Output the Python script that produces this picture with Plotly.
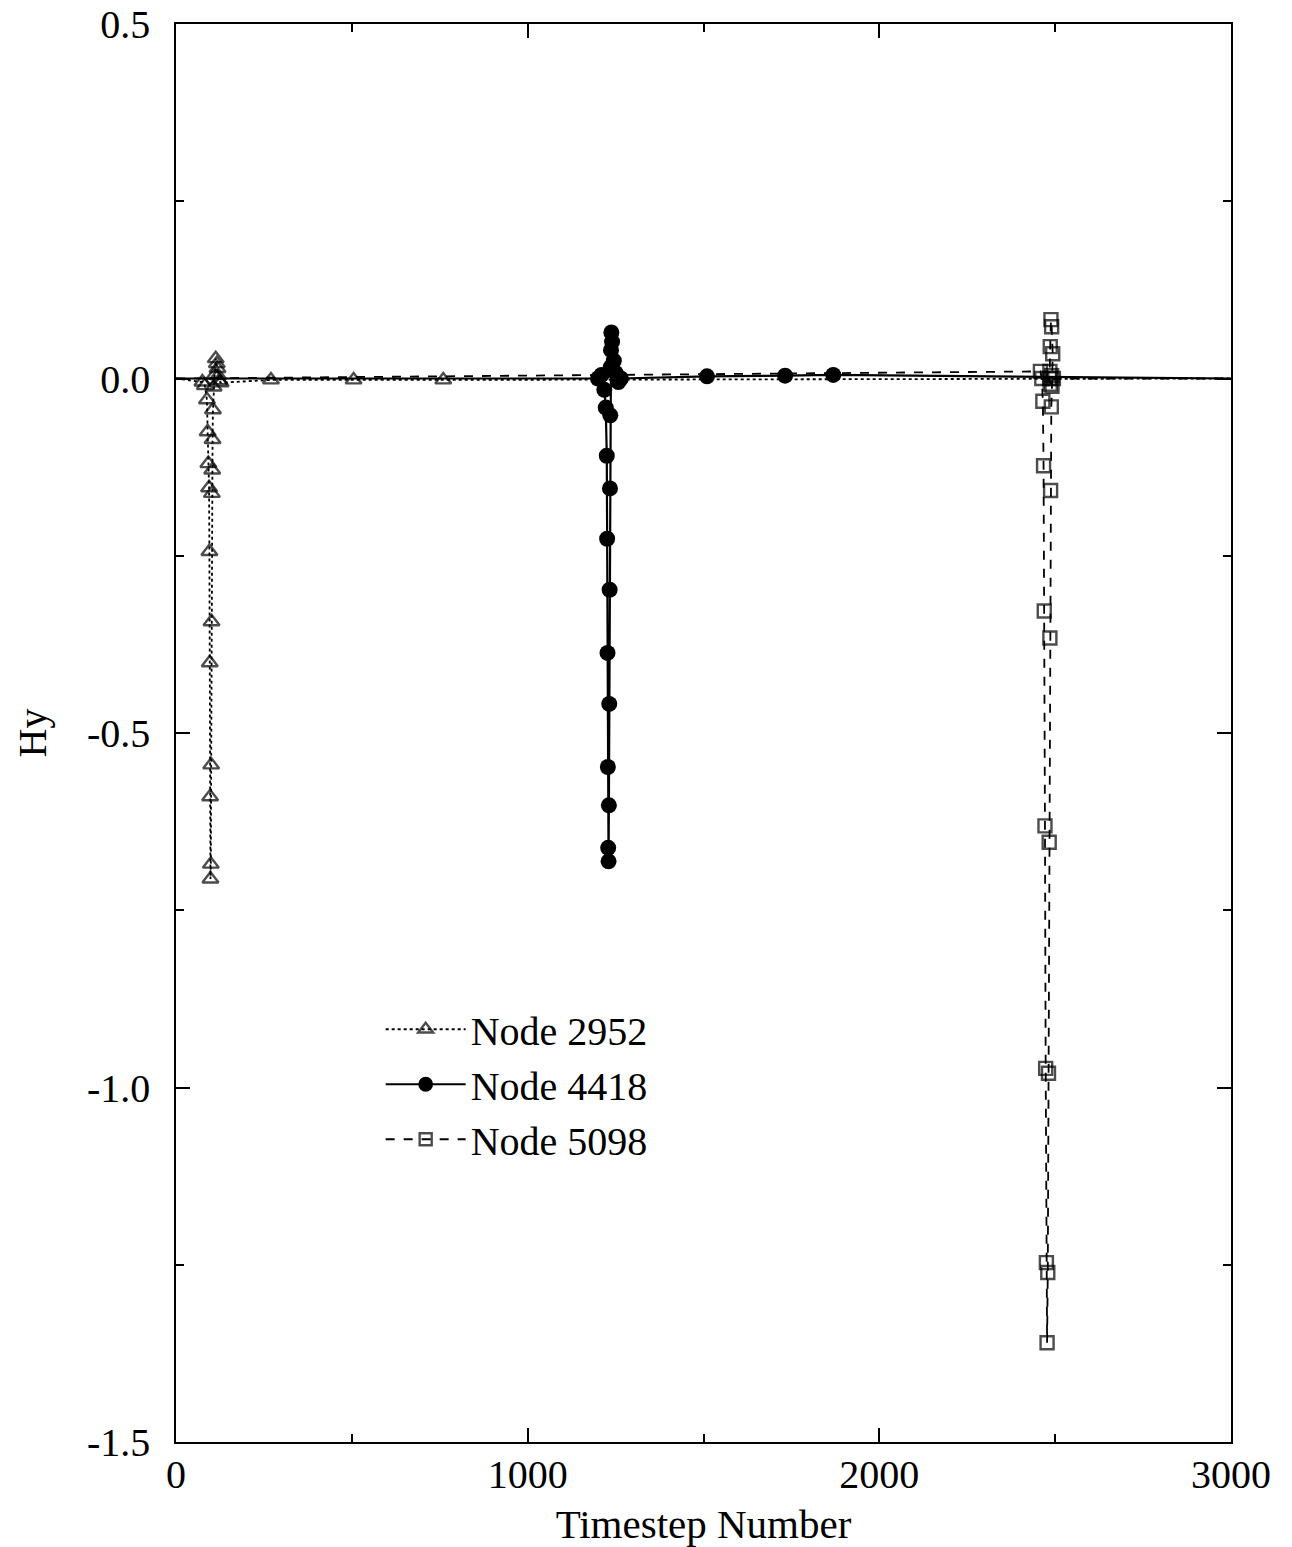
import plotly.graph_objects as go

# ---- data ----
node2952_x = [0, 75, 82, 88, 90, 92, 94, 95, 96, 97, 98, 99, 100, 101, 102, 103, 104, 105, 107, 110, 113, 116, 118, 120, 123, 127, 270, 505, 760, 3000]
node2952_y = [0, -0.005, -0.010, -0.030, -0.075, -0.120, -0.154, -0.244, -0.401, -0.590, -0.706, -0.685, -0.545, -0.343, -0.162, -0.129, -0.086, -0.044, -0.012, 0.005, 0.028, 0.021, 0.014, 0.004, -0.003, -0.006, -0.002, -0.002, -0.002, 0]

node4418_x = [0, 1200, 1210, 1218, 1222, 1225, 1226, 1227, 1228, 1229, 1230, 1231, 1232, 1233, 1234, 1235, 1236, 1237, 1238, 1240, 1245, 1250, 1258, 1265, 1510, 1732, 1869, 3000]
node4418_y = [0, 0.0, 0.005, -0.016, -0.041, -0.109, -0.226, -0.387, -0.548, -0.662, -0.681, -0.602, -0.459, -0.298, -0.155, -0.052, 0.016, 0.040, 0.065, 0.052, 0.025, 0.008, -0.005, 0.0, 0.003, 0.004, 0.005, 0]

node5098_x = [0, 2458, 2462, 2465, 2467, 2469, 2471, 2473, 2475, 2477, 2479, 2481, 2483, 2485, 2487, 2489, 2491, 2493, 2490, 2488, 2486, 2485, 2484, 2486, 2490, 2495, 3000]
node5098_y = [0, 0.010, 0.0, -0.032, -0.123, -0.328, -0.631, -0.973, -1.247, -1.360, -1.261, -0.980, -0.654, -0.366, -0.158, -0.040, -0.011, 0.035, 0.073, 0.083, 0.045, 0.010, 0.0, -0.008, 0.004, 0.0, 0]

x_tickvals = [0, 1000, 2000, 3000]
x_ticktext = ["0", "1000", "2000", "3000"]
y_tickvals = [0.5, 0.0, -0.5, -1.0, -1.5]
y_ticktext = ["0.5", "0.0", "-0.5", "-1.0", "-1.5"]

FONT = "Liberation Serif"


def sizes(xs, s):
    return [0 if (x == 0 or x == 3000) else s for x in xs]


fig = go.Figure()
fig.add_trace(go.Scatter(
    x=node2952_x, y=node2952_y, name="Node 2952", mode="lines+markers",
    line=dict(color="black", width=1.8, dash="dot"),
    marker=dict(symbol="triangle-up-open", size=sizes(node2952_x, 14), color="black",
                line=dict(width=2.4, color="black")),
))
fig.add_trace(go.Scatter(
    x=node4418_x, y=node4418_y, name="Node 4418", mode="lines+markers",
    line=dict(color="black", width=2.2),
    marker=dict(symbol="circle", size=sizes(node4418_x, 16), color="black", opacity=1,
                line=dict(width=0)),
))
fig.add_trace(go.Scatter(
    x=node5098_x, y=node5098_y, name="Node 5098", mode="lines+markers",
    line=dict(color="black", width=1.8, dash="dash"),
    marker=dict(symbol="square-open", size=sizes(node5098_x, 13), color="black",
                line=dict(width=2.4, color="black")),
))

fig.update_layout(
    width=1292, height=1547,
    margin=dict(l=176, r=61, t=24, b=105),
    paper_bgcolor="white", plot_bgcolor="white",
    font=dict(family=FONT, size=40, color="black"),
    showlegend=True,
    legend=dict(x=0.194, y=0.314, xanchor="left", yanchor="top",
                bgcolor="rgba(0,0,0,0)", font=dict(family=FONT, size=40),
                itemwidth=80, tracegroupgap=0),
)

fig.update_xaxes(
    range=[0, 3000], tickvals=x_tickvals, ticktext=x_ticktext,
    ticks="inside", ticklen=14, tickwidth=1.5, tickcolor="black",
    minor=dict(dtick=500, ticks="inside", ticklen=8, tickwidth=1.5, tickcolor="black"),
    showline=True, linecolor="black", linewidth=1.5, mirror="allticks",
    showgrid=False, zeroline=False, automargin=False,
    ticklabelstandoff=-4,
    title=dict(text="Timestep Number", font=dict(family=FONT, size=41), standoff=22),
)
fig.update_yaxes(
    range=[-1.5, 0.5], tickvals=y_tickvals, ticktext=y_ticktext,
    ticks="inside", ticklen=14, tickwidth=1.5, tickcolor="black",
    minor=dict(dtick=0.25, ticks="inside", ticklen=8, tickwidth=1.5, tickcolor="black"),
    showline=True, linecolor="black", linewidth=1.5, mirror="allticks",
    showgrid=False, zeroline=False, automargin=False,
    ticklabelstandoff=16,
    title=dict(text="Hy", font=dict(family=FONT, size=40), standoff=28),
)

fig.write_html("out.html")
